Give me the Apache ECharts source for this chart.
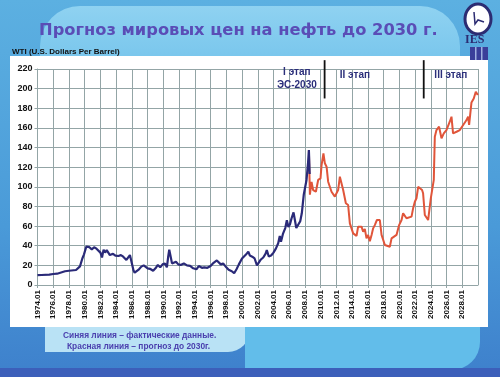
<!DOCTYPE html>
<html><head><meta charset="utf-8">
<script src="https://cdn.jsdelivr.net/npm/echarts@6/dist/echarts.min.js"></script>
<style>html,body{margin:0;padding:0;}#c{width:500px;height:377px;background:linear-gradient(180deg,#5cb0e1 0%,#4a9ad8 60%,#3e80cc 100%);}</style>
</head><body><div id="c"></div>
<script>
const title = 'Прогноз мировых цен на нефть до 2030 г.';
const unitLabel = 'WTI (U.S. Dollars Per Barrel)';
const footer1 = 'Синяя линия – фактические данные.';
const footer2 = 'Красная линия – прогноз до 2030г.';
const yearMin = 1974, yearMax = 2030, yearStep = 2;
const priceMin = 0, priceMax = 220, priceStep = 20;
const stageBounds = [2010.5, 2023.1];
const stageLabels = [['I этап', 'ЭС-2030'], ['II этап'], ['III этап']];
const stageLabelYears = [2006.97, 2014.35, 2026.55];
const stageLabelVals = [[217, 203.5], [214], [214]];

// actual WTI (blue): [year, USD]
const actual = [
 [1974.0,10],[1974.5,10.2],[1975.5,10.5],[1976.0,11.2],[1976.5,11.5],[1976.7,13.5],[1977.5,14],[1978.0,14.5],
 [1978.9,15.3],[1979.4,19],[1979.7,27],[1979.9,31],[1980.2,39],[1980.6,38.5],[1980.9,36.3],[1981.2,38.5],
 [1981.5,37],[1981.7,35.6],[1982.0,33],[1982.2,28],[1982.4,36],[1982.6,33],[1982.8,35.6],[1983.2,30.5],
 [1983.6,31.8],[1983.9,30],[1984.3,29.5],[1984.6,30.5],[1984.9,28.8],[1985.3,25.5],[1985.5,27],[1985.75,30.5],
 [1986.0,22],[1986.2,15],[1986.35,12.5],[1986.6,14],[1986.9,16],[1987.2,18.7],[1987.5,20],[1987.7,21.4],
 [1988.0,17],[1988.3,16.5],[1988.7,14.5],[1989.0,17],[1989.3,20.4],[1989.6,18],[1989.9,21],[1990.2,22],
 [1990.45,18],[1990.6,28],[1990.75,36],[1990.9,30],[1991.1,22],[1991.3,20.4],[1991.6,23.7],[1991.9,21],
 [1992.2,20.4],[1992.6,22],[1993.0,20],[1993.4,19.5],[1993.8,17],[1994.2,16],[1994.5,19.3],[1994.9,17.5],
 [1995.2,18],[1995.6,17.5],[1996.0,19.3],[1996.3,22],[1996.5,21],[1996.8,25],[1997.0,25.5],[1997.3,21],
 [1997.6,22],[1998.0,18],[1998.3,15.5],[1998.7,14],[1999.0,12],[1999.3,16],[1999.6,21],[2000.0,27],
 [2000.2,28.8],[2000.5,31],[2000.8,34],[2001.0,30],[2001.3,28.8],[2001.6,27],[2001.9,20],[2002.1,20.4],
 [2002.4,26],[2002.7,28],[2003.0,32],[2003.15,35.6],[2003.4,29],[2003.7,30],[2004.0,33],[2004.3,37],
 [2004.6,42.5],[2004.8,50],[2004.95,44],[2005.2,52],[2005.5,58],[2005.7,66],[2005.9,59],[2006.1,62],
 [2006.3,68],[2006.55,74],[2006.9,58],[2007.1,56],[2007.4,65],[2007.6,73],[2007.85,92],[2008.0,93.4],
 [2008.2,107],[2008.4,125],[2008.5,137.5],[2008.6,113]
];
// forecast (red): [year, USD]
const forecast = [
 [2008.5,137.5],[2008.63,92],[2008.84,105],[2009.04,96.7],[2009.39,95],[2009.68,107],[2009.98,108.6],
 [2010.11,122],[2010.35,134],[2010.53,124],[2010.75,120.5],[2010.95,105.2],[2011.17,103.6],[2011.38,95],
 [2011.59,96.7],[2011.8,90],[2012.22,96.7],[2012.44,110.3],[2012.65,112],[2012.86,96.7],[2013.2,83.2],
 [2013.49,81.5],[2013.71,62.8],[2014.13,52.6],[2014.56,50],[2014.76,59.4],[2015.19,59.4],[2015.4,54.3],
 [2015.61,57],[2015.83,47.5],[2016.03,51],[2016.25,44.5],[2016.47,51],[2016.67,57.7],[2016.88,61],
 [2017.15,66.2],[2017.52,66.2],[2017.74,51],[2017.94,49.2],[2018.16,40.7],[2018.37,39],[2018.79,39],
 [2019.01,47.5],[2019.21,49.2],[2019.64,51],[2019.85,52.6],[2019.97,61],[2020.28,66.2],[2020.48,73],
 [2020.7,73],[2020.91,68],[2021.12,66.2],[2021.55,69.6],[2021.75,78.1],[2021.97,84.8],[2022.18,88.3],
 [2022.39,100],[2022.6,100.5],[2022.89,96.7],[2023.02,93.4],[2023.24,71.3],[2023.66,66.2],[2023.75,66.2],
 [2024.0,88.3],[2024.38,107],[2024.51,151],[2024.72,157.8],[2025.05,161.2],[2025.36,149.4],[2025.56,147.7],
 [2025.65,154.5],[2025.99,157.8],[2026.41,166.3],[2026.63,171.4],[2026.83,154.5],[2027.27,156.1],
 [2027.69,157.8],[2027.9,159.6],[2028.54,168],[2028.74,171.4],[2028.87,163],[2028.96,163],[2029.17,186],
 [2029.46,190],[2029.72,196.8],[2029.98,193.5]
];

const chart = echarts.init(document.getElementById('c'), null, {renderer: 'canvas'});
const gridColor = '#93a5a6';
const navy = '#2c2c72';
const purple = '#5a4db6';

const option = {
  backgroundColor: 'transparent',
  animation: false,
  graphic: [
    {type:'rect', z:-11, shape:{x:40,y:6,width:420,height:80,r:[40,40,0,0]}, style:{fill:{type:'linear',x:0,y:0,x2:0,y2:1,colorStops:[{offset:0,color:'#8fd2f1'},{offset:1,color:'#6ec0ea'}]}}},
    {type:'rect', z:-10, shape:{x:45,y:300,width:205,height:52,r:[0,0,22,0]}, style:{fill:'#b9e2f5'}},
    {type:'rect', z:-10, shape:{x:245,y:300,width:235,height:70,r:[0,0,28,0]}, style:{fill:'#62bdea'}},
    {type:'rect', z:-10, shape:{x:0,y:368,width:500,height:9}, style:{fill:'#3c5fba'}},
    {type:'rect', z:-9, shape:{x:10,y:56,width:478,height:271}, style:{fill:'#ffffff'}},
    {type:'text', left:39, top:23, style:{text:title, fill:purple, font:'bold 16.3px "DejaVu Sans", sans-serif'}},
    {type:'text', left:12, top:48, style:{text:unitLabel, fill:'#111', font:'bold 8px "Liberation Sans", Arial, sans-serif'}},
    {type:'text', left:63, top:332, style:{text:footer1, fill:'#4a3fae', font:'bold 8.4px "Liberation Sans", Arial, sans-serif'}},
    {type:'text', left:67, top:342.5, style:{text:footer2, fill:'#4a3fae', font:'bold 8.4px "Liberation Sans", Arial, sans-serif'}},
    {type:'ellipse', shape:{cx:478,cy:19,rx:13,ry:15}, style:{fill:'#ffffff', stroke:navy, lineWidth:3}},
    {type:'polyline', shape:{points:[[474,12],[475,24],[478,20],[484,22]]}, style:{stroke:navy, lineWidth:1.5, fill:null}},
    {type:'text', left:465, top:34, style:{text:'IES', fill:navy, font:'bold 12px "Liberation Serif", serif'}},
    {type:'rect', shape:{x:470,y:47,width:18,height:13}, style:{fill:'#3a3f9a'}},
    {type:'rect', shape:{x:475,y:47,width:1.5,height:13}, style:{fill:'#9fb0e0'}},
    {type:'rect', shape:{x:481,y:47,width:1.5,height:13}, style:{fill:'#9fb0e0'}}
  ],
  grid: {left:37.5, right:22, top:69, bottom:92, containLabel:false},
  xAxis: {
    type:'value', min:yearMin, max:yearMax, interval:yearStep,
    axisLine:{show:true, lineStyle:{color:gridColor}},
    axisTick:{show:true, length:3, lineStyle:{color:gridColor}},
    splitLine:{show:true, lineStyle:{color:gridColor, width:1}},
    axisLabel:{rotate:90, margin:5, showMaxLabel:false, color:'#111', fontSize:8, fontWeight:'bold',
      fontFamily:'"Liberation Sans", Arial, sans-serif', formatter: v => v + '.01'}
  },
  yAxis: {
    type:'value', min:priceMin, max:priceMax, interval:priceStep,
    axisLine:{show:true, lineStyle:{color:gridColor}},
    axisTick:{show:true, length:3, lineStyle:{color:gridColor}},
    splitLine:{show:true, lineStyle:{color:gridColor, width:1}},
    axisLabel:{margin:5, color:'#111', fontSize:9, fontWeight:'bold', fontFamily:'"Liberation Sans", Arial, sans-serif'}
  },
  series: [
    {type:'line', data:forecast, showSymbol:false, lineStyle:{color:'#e0553a', width:2}, z:2},
    {type:'line', data:actual, showSymbol:false, lineStyle:{color:'#2a2a78', width:2.2}, z:3}
  ]
};
chart.setOption(option);

// stage boundary markers and stage labels, positioned via the axis scale
const g = option.graphic.slice();
stageBounds.forEach(b => {
  const top = chart.convertToPixel({gridIndex:0}, [b, 229]);
  const bot = chart.convertToPixel({gridIndex:0}, [b, 190]);
  g.push({type:'line', shape:{x1:top[0], y1:top[1], x2:bot[0], y2:bot[1]}, style:{stroke:'#111', lineWidth:1.8}});
});
stageLabels.forEach((lines, i) => {
  lines.forEach((t, j) => {
    const p = chart.convertToPixel({gridIndex:0}, [stageLabelYears[i], stageLabelVals[i][j]]);
    g.push({type:'text', x:p[0], y:p[1], style:{text:t, fill:'#2b2f7a', align:'center', verticalAlign:'middle',
      font:'bold 10px "Liberation Sans", Arial, sans-serif'}});
  });
});
chart.setOption({graphic: g}, {replaceMerge:['graphic']});
</script></body></html>
